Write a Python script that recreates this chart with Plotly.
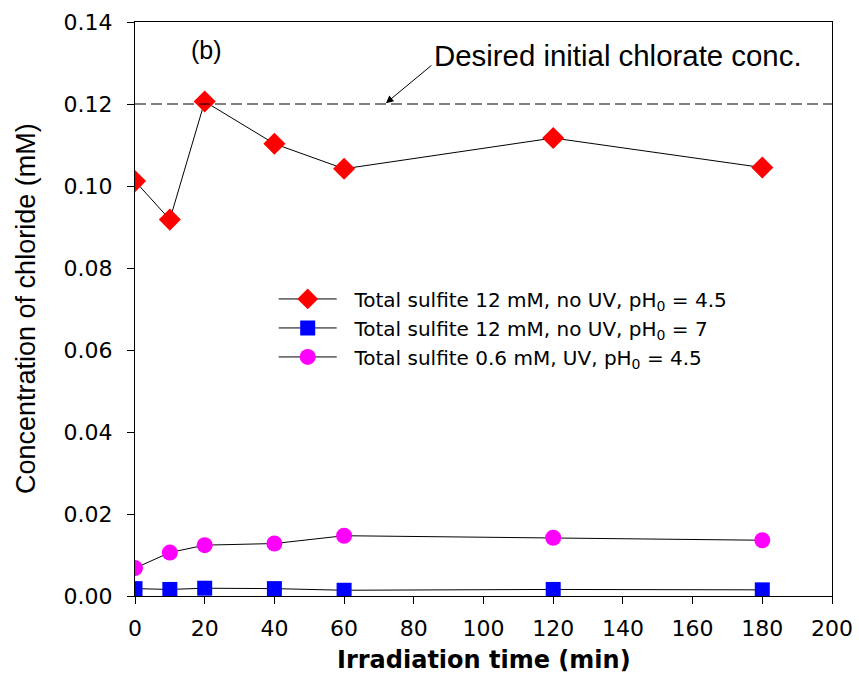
import plotly.graph_objects as go

time = [0, 10, 20, 40, 60, 120, 180]
red_vals = [0.1012, 0.0918, 0.1206, 0.1103, 0.1042, 0.1117, 0.1045]
blue_vals = [0.0018, 0.0016, 0.0019, 0.0018, 0.0014, 0.0016, 0.0015]
pink_vals = [0.0068, 0.0106, 0.0124, 0.0128, 0.0147, 0.0142, 0.0136]
names = ["&nbsp;&nbsp;Total sulfite 12 mM, no UV, pH<sub>0</sub> = 4.5",
         "&nbsp;&nbsp;Total sulfite 12 mM, no UV, pH<sub>0</sub> = 7",
         "&nbsp;&nbsp;Total sulfite 0.6 mM, UV, pH<sub>0</sub> = 4.5"]
desired_conc = 0.12
x_ticks = list(range(0, 201, 20))
y_ticks = [0.00, 0.02, 0.04, 0.06, 0.08, 0.10, 0.12, 0.14]

fig = go.Figure()
fig.add_trace(go.Scatter(x=time, y=red_vals, name=names[0], mode="lines+markers",
                         line=dict(color="black", width=1),
                         marker=dict(symbol="diamond", size=17, color="#ff0000")))
fig.add_trace(go.Scatter(x=time, y=blue_vals, name=names[1], mode="lines+markers",
                         line=dict(color="black", width=1),
                         marker=dict(symbol="square", size=15, color="#0000ff")))
fig.add_trace(go.Scatter(x=time, y=pink_vals, name=names[2], mode="lines+markers",
                         line=dict(color="black", width=1),
                         marker=dict(symbol="circle", size=16, color="#ff00ff")))

fig.add_shape(type="line", xref="paper", x0=0, x1=1, yref="y", y0=desired_conc, y1=desired_conc,
              line=dict(color="black", width=1.2, dash="11px,5px"))

fig.add_annotation(x=85.2, y=0.1318, text="Desired initial chlorate conc.", showarrow=False,
                   xanchor="left", yanchor="middle",
                   font=dict(family="Liberation Sans, Arial", size=29.4, color="black"))
fig.add_annotation(x=72, y=0.1202, text="", showarrow=True, ax=47, ay=-39,
                   arrowhead=2, arrowsize=1.5, arrowwidth=1, arrowcolor="black")
fig.add_annotation(x=15.6, y=0.1332, text="(b)", showarrow=False, xanchor="left", yanchor="middle",
                   font=dict(family="Liberation Sans, Arial", size=25, color="black"))

# axis titles
fig.add_annotation(xref="paper", yref="paper", x=0.5, y=0, yshift=-64, text="<b>Irradiation time (min)</b>",
                   showarrow=False, xanchor="center", yanchor="middle",
                   font=dict(family="DejaVu Sans", size=24, color="black"))
fig.add_annotation(xref="paper", yref="paper", x=0, xshift=-109, y=0.5, textangle=-90,
                   text="Concentration of chloride (mM)",
                   showarrow=False, xanchor="center", yanchor="middle",
                   font=dict(family="Liberation Sans, Arial", size=27, color="black"))

fig.update_layout(
    width=859, height=683,
    margin=dict(l=135, r=27, t=22, b=87),
    plot_bgcolor="white", paper_bgcolor="white",
    showlegend=True,
    legend=dict(x=0.199, y=0.5515, xanchor="left", yanchor="top",
                bgcolor="rgba(0,0,0,0)", tracegroupgap=0, itemwidth=58,
                font=dict(family="DejaVu Sans", size=20, color="black")),
    font=dict(family="DejaVu Sans", color="black"),
)
fig.update_xaxes(range=[0, 200], tickvals=x_ticks, ticks="outside", ticklen=7, tickcolor="black",
                 showline=True, linecolor="black", linewidth=1, mirror=True, showgrid=False,
                 zeroline=False, ticklabelstandoff=6, automargin=False,
                 tickfont=dict(size=22, family="DejaVu Sans"))
fig.update_yaxes(range=[0, 0.14], tickvals=y_ticks, tickformat=".2f", ticks="outside", ticklen=7,
                 tickcolor="black", showline=True, linecolor="black", linewidth=1, mirror=True,
                 showgrid=False, zeroline=False, ticklabelstandoff=10, automargin=False,
                 tickfont=dict(size=22, family="DejaVu Sans"))

fig.write_html("out.html")
